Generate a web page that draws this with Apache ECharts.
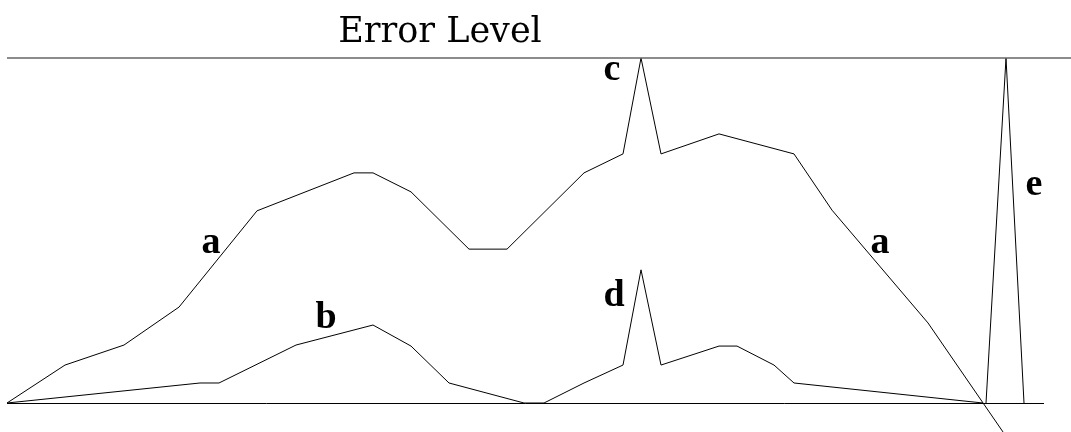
<!DOCTYPE html>
<html>
<head>
<meta charset="utf-8">
<title>Error Level</title>
<script src="https://cdn.jsdelivr.net/npm/echarts@6/dist/echarts.min.js"></script>
<style>
  html, body { margin: 0; padding: 0; background: #fff; }
  #chart { width: 1071px; height: 432px; }
</style>
</head>
<body>
<div id="chart"></div>
<script>
// curve a (with spike c)
const aX = [0, 58, 117, 172, 250, 347, 366, 404, 462, 500, 577, 616, 634, 654, 712, 787, 825, 921, 996];
const aY = [0, 11.0, 16.8, 27.8, 55.7, 66.7, 66.7, 61.2, 44.6, 44.6, 66.7, 72.2, 100, 72.2, 78.0, 72.2, 55.9, 23.2, -8.4];
// curve b (with spike d)
const bX = [0, 193, 212, 289, 366, 404, 442, 517, 537, 577, 616, 634, 654, 712, 730, 767, 787, 976];
const bY = [0, 5.8, 5.8, 16.8, 22.6, 16.5, 5.8, 0, 0, 5.8, 11.0, 38.6, 11.0, 16.5, 16.5, 11.0, 5.8, 0];
// spike e
const eX = [979, 999, 1017];
const eY = [0, 100, 0];
// zero line and error level
const baseX = [0, 1037];
const errorLevel = 100;

const zip = (xs, ys) => xs.map((x, i) => [x, ys[i]]);

const chart = echarts.init(document.getElementById('chart'));

const lineStyle = { color: '#000', width: 1 };
function curve(name, xs, ys) {
    return {
        name: name,
        type: 'line',
        data: zip(xs, ys),
        symbol: 'none',
        clip: false,
        silent: true,
        lineStyle: lineStyle
    };
}

const labelFont = { fontFamily: 'Liberation Serif', fontWeight: 'bold', fontSize: 38, fill: '#000', align: 'center', verticalAlign: 'middle' };
function letter(t, x, y) {
    return { type: 'text', x: x, y: y, style: Object.assign({ text: t }, labelFont) };
}

chart.setOption({
    animation: false,
    grid: { left: 7, right: 0, top: 58, bottom: 29 },
    xAxis: { type: 'value', min: 0, max: 1064, show: false },
    yAxis: { type: 'value', min: 0, max: 100, show: false },
    series: [
        Object.assign(curve('a', aX, aY), {
            markLine: {
                silent: true,
                symbol: 'none',
                label: { show: false },
                lineStyle: { color: '#666', width: 1.5, type: 'solid' },
                data: [{ yAxis: errorLevel }]
            }
        }),
        Object.assign(curve('b', bX, bY), {
            markLine: {
                silent: true,
                symbol: 'none',
                label: { show: false },
                lineStyle: { color: '#000', width: 1, type: 'solid' },
                data: [[{ coord: [baseX[0], 0] }, { coord: [baseX[1], 0] }]]
            }
        }),
        curve('e', eX, eY)
    ],
    graphic: [
        {
            type: 'text', x: 440, y: 33,
            style: { text: 'Error Level', fontFamily: 'DejaVu Serif', fontWeight: 'normal', fontSize: 35, fill: '#000', align: 'center', verticalAlign: 'middle' }
        },
        letter('a', 211, 243),
        letter('a', 880, 243),
        letter('b', 326, 318),
        letter('c', 612, 70),
        letter('d', 614, 296),
        letter('e', 1034, 185)
    ]
});
</script>
</body>
</html>
